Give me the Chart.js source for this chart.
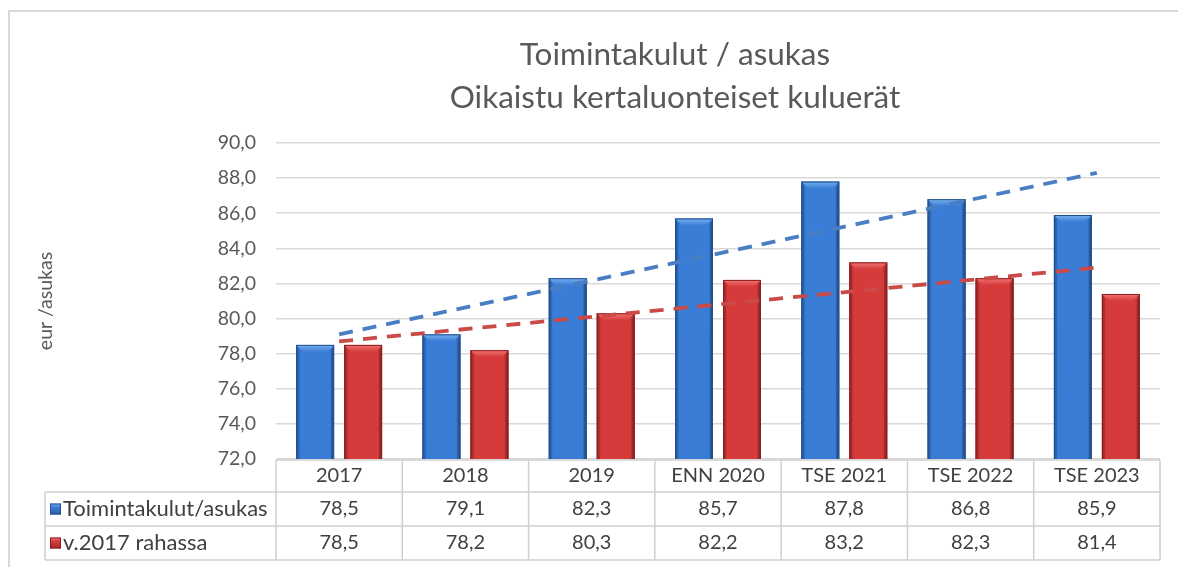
<!DOCTYPE html>
<html><head><meta charset="utf-8">
<script src="https://cdn.jsdelivr.net/npm/chart.js@4.4.1/dist/chart.umd.min.js"></script>
<style>html,body{margin:0;padding:0;background:#fff;}#wrap{width:1178px;height:567px;position:relative;}</style>
</head><body><div id="wrap"><canvas id="c" width="1178" height="567"></canvas></div>
<script>
const categories = ['2017','2018','2019','ENN 2020','TSE 2021','TSE 2022','TSE 2023'];
const seriesNames = ['Toimintakulut/asukas','v.2017 rahassa'];
const toimintakulut = [78.5,79.1,82.3,85.7,87.8,86.8,85.9];
const rahassa2017 = [78.5,78.2,80.3,82.2,83.2,82.3,81.4];
const tableRow1 = ['78,5','79,1','82,3','85,7','87,8','86,8','85,9'];
const tableRow2 = ['78,5','78,2','80,3','82,2','83,2','82,3','81,4'];
const trendToimintakulut = [79.1,null,null,null,null,null,88.3];
const trendRahassa = [78.7,null,null,null,null,null,82.9];
const yTickLabels = ['72,0','74,0','76,0','78,0','80,0','82,0','84,0','86,0','88,0','90,0'];
const titleLines = ['Toimintakulut / asukas','Oikaistu kertaluonteiset kuluerät'];
const yAxisTitle = 'eur /asukas';

const FONT = 'Lato, "Open Sans", sans-serif';
const BLUE = {mid:'#3a7dd6', edge:'#2a5ca6', top:'#78b1f0', dark:'#23508e'};
const RED = {mid:'#d63b3b', edge:'#a32929', top:'#f27575', dark:'#8c2020'};

function drawBevelBar(ctx, x, y, base, w, c){
  const l = x - w/2, r = x + w/2, h = base - y;
  if (h <= 0) return;
  const g = ctx.createLinearGradient(l,0,r,0);
  g.addColorStop(0,c.edge); g.addColorStop(0.12,c.mid); g.addColorStop(0.5,c.mid);
  g.addColorStop(0.88,c.mid); g.addColorStop(1,c.edge);
  ctx.fillStyle = g; ctx.fillRect(l,y,w,h);
  const gv = ctx.createLinearGradient(0,y,0,base);
  gv.addColorStop(0,'rgba(0,0,0,0)'); gv.addColorStop(0.7,'rgba(0,0,0,0.04)'); gv.addColorStop(1,'rgba(0,0,0,0.16)');
  ctx.fillStyle = gv; ctx.fillRect(l,y,w,h);
  const b = 7;
  const gt = ctx.createLinearGradient(0,y,0,y+b);
  gt.addColorStop(0,c.top); gt.addColorStop(1,c.mid);
  ctx.fillStyle = gt;
  ctx.beginPath(); ctx.moveTo(l,y); ctx.lineTo(r,y); ctx.lineTo(r-b,y+b); ctx.lineTo(l+b,y+b); ctx.closePath(); ctx.fill();
  ctx.fillStyle = 'rgba(0,0,0,0.10)';
  ctx.beginPath(); ctx.moveTo(l,y); ctx.lineTo(l+3,y+b); ctx.lineTo(l+3,base); ctx.lineTo(l,base); ctx.closePath(); ctx.fill();
  ctx.fillStyle = 'rgba(0,0,0,0.18)';
  ctx.beginPath(); ctx.moveTo(r,y); ctx.lineTo(r-3,y+b); ctx.lineTo(r-3,base); ctx.lineTo(r,base); ctx.closePath(); ctx.fill();
  ctx.strokeStyle = c.dark; ctx.lineWidth = 1;
  ctx.strokeRect(l+0.5,y+0.5,w-1,h-1);
}

const deco = {
  id:'deco',
  beforeDraw(chart){
    const ctx = chart.ctx;
    ctx.save();
    ctx.fillStyle = '#fff'; ctx.fillRect(0,0,chart.width,chart.height);
    ctx.strokeStyle = '#d9d9d9'; ctx.lineWidth = 2;
    ctx.beginPath(); ctx.moveTo(9,567); ctx.lineTo(9,11); ctx.lineTo(1178,11); ctx.stroke();
    ctx.restore();
  },
  afterDatasetDraw(chart, args){
    const ds = chart.data.datasets[args.index];
    if (ds.type !== 'bar') return;
    const ctx = chart.ctx; const c = args.index === 0 ? BLUE : RED;
    ctx.save();
    const ca = chart.chartArea;
    ctx.beginPath(); ctx.rect(ca.left, ca.top-20, ca.right-ca.left, ca.bottom-ca.top+20); ctx.clip();
    args.meta.data.forEach(el => {
      const p = el.getProps(['x','y','base','width'], true);
      drawBevelBar(ctx, p.x, p.y, p.base, p.width, c);
    });
    ctx.restore();
  },
  afterDraw(chart){
    const ctx = chart.ctx; const xs = chart.scales.x;
    ctx.save();
    ctx.fillStyle = '#595959'; ctx.textAlign = 'center'; ctx.textBaseline = 'middle';
    ctx.font = '31.5px ' + FONT;
    ctx.fillText(titleLines[0], 675, 55);
    ctx.fillText(titleLines[1], 675, 98);
    const colW = (xs.right - xs.left) / categories.length;
    const tableLeft = 45, rowTop = chart.chartArea.bottom + 1;
    const r1 = 492, r2 = 526, r3 = 560;
    ctx.strokeStyle = '#d0d0d0'; ctx.lineWidth = 1.5;
    ctx.beginPath();
    ctx.moveTo(xs.left, rowTop); ctx.lineTo(xs.right, rowTop);
    [r1,r2,r3].forEach(yy => { ctx.moveTo(tableLeft, yy); ctx.lineTo(xs.right, yy); });
    ctx.moveTo(tableLeft, r1); ctx.lineTo(tableLeft, r3);
    for (let i = 0; i <= categories.length; i++) {
      const xx = xs.left + i*colW;
      ctx.moveTo(xx, rowTop); ctx.lineTo(xx, r3);
    }
    ctx.stroke();
    ctx.fillStyle = '#404040'; ctx.font = '20px ' + FONT;
    categories.forEach((cat,i) => {
      const cx = xs.getPixelForValue(i);
      ctx.fillText(cat, cx, (rowTop + r1)/2);
      ctx.fillText(tableRow1[i], cx, (r1 + r2)/2);
      ctx.fillText(tableRow2[i], cx, (r2 + r3)/2);
    });
    ctx.textAlign = 'left';
    ctx.font = '22px ' + FONT;
    [[BLUE, seriesNames[0], (r1+r2)/2],[RED, seriesNames[1], (r2+r3)/2]].forEach(([c,name,cy]) => {
      const s = 11, lx = 50, ly = cy - s/2;
      const g = ctx.createLinearGradient(0,ly,0,ly+s);
      g.addColorStop(0,c.top); g.addColorStop(0.35,c.mid); g.addColorStop(1,c.edge);
      ctx.fillStyle = g; ctx.fillRect(lx,ly,s,s);
      ctx.strokeStyle = c.dark; ctx.lineWidth = 1; ctx.strokeRect(lx+0.5,ly+0.5,s-1,s-1);
      ctx.fillStyle = '#404040';
      ctx.fillText(name, 63, cy);
    });
    ctx.restore();
  }
};

new Chart(document.getElementById('c'), {
  data: {
    labels: categories,
    datasets: [
      {type:'bar', label:seriesNames[0], data:toimintakulut, backgroundColor:BLUE.mid, order:2,
       categoryPercentage:0.76, barPercentage:0.79},
      {type:'bar', label:seriesNames[1], data:rahassa2017, backgroundColor:RED.mid, order:2,
       categoryPercentage:0.76, barPercentage:0.79},
      {type:'line', label:'trend1', data:trendToimintakulut, borderColor:'#4a7ec4', borderWidth:3.8,
       borderDash:[14,10], pointRadius:0, spanGaps:true, fill:false, order:0},
      {type:'line', label:'trend2', data:trendRahassa, borderColor:'#c94a47', borderWidth:3.8,
       borderDash:[14,10], pointRadius:0, spanGaps:true, fill:false, order:0}
    ]
  },
  options: {
    responsive:false, animation:false, devicePixelRatio:1,
    layout:{padding:{top:143, bottom:108, left:30, right:18}},
    plugins:{legend:{display:false}, title:{display:false}, tooltip:{enabled:false}},
    scales:{
      x:{display:false, grid:{display:false}},
      y:{min:72, max:90,
         afterFit(scale){ scale.width = 246; },
         ticks:{stepSize:2, padding:20, color:'#595959', font:{family:FONT, size:19.5},
                callback:(v,i)=> yTickLabels[i]},
         grid:{color:'#d9d9d9', lineWidth:1.5, drawTicks:false},
         border:{display:false},
         title:{display:true, text:yAxisTitle, color:'#595959', font:{family:FONT, size:19.5}}
      }
    }
  },
  plugins:[deco]
});
</script></body></html>
